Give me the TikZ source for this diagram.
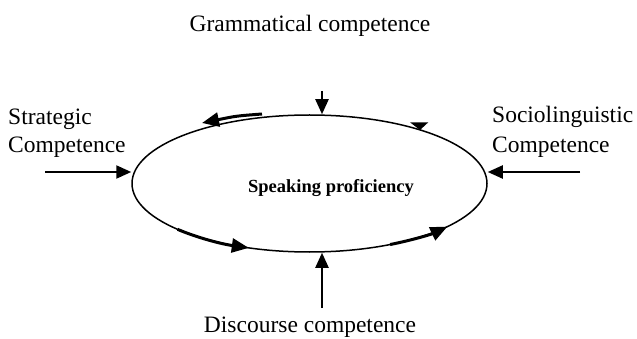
\documentclass[tikz,border=0pt]{standalone}
\usepackage{fontspec}
\setmainfont{Liberation Serif}
\usetikzlibrary{arrows.meta,shapes.geometric}
\begin{document}
\begin{tikzpicture}[x=1pt,y=1pt,
  lbl/.style={inner sep=0pt,font=\fontsize{23.5}{28}\selectfont},
  inarrow/.style={line width=2.2pt,-{Triangle[length=15pt,width=13pt]}},
  ringarrow/.style={line width=3pt,-{Triangle[length=17pt,width=14pt]}},
  ring/.style={draw,ellipse,line width=1.5pt,minimum width=355pt,minimum height=137pt,inner sep=0pt}
]
\useasboundingbox (0,0) rectangle (637,-339);
\node[ring] (sp) at (309.5,-183.5) {};
\node[inner sep=0pt,font=\fontsize{18.5}{22}\selectfont\bfseries] (splabel) at (331,-188) {Speaking proficiency};

\node[lbl,anchor=base] (gram) at (310,-32) {Grammatical competence};
\node[lbl,anchor=base] (disc) at (310,-332) {Discourse competence};
\node[lbl,anchor=base west] (strat1) at (8,-125) {Strategic};
\node[lbl,anchor=base west] (strat2) at (8,-153) {Competence};
\node[lbl,anchor=base west] (soc1) at (492,-123) {Sociolinguistic};
\node[lbl,anchor=base west] (soc2) at (492,-153) {Competence};

\coordinate (gtop) at (322,-91);
\coordinate (bbot) at (322,-308);
\coordinate (lst) at (45,-172);
\coordinate (rst) at (580,-172);

\draw[inarrow] (gtop) -- (gtop |- sp.north);
\draw[inarrow] (bbot) -- (bbot |- sp.south);
\draw[inarrow] (lst) -- (sp.west |- lst);
\draw[inarrow] (rst) -- (sp.east |- rst);

\coordinate (ulA) at (262,-114);
\coordinate (ulB) at (202,-123);
\draw[ringarrow] (ulA) .. controls (236,-116) .. (ulB);
\draw[ringarrow] (sp.center) ++(222:177.5pt and 68.5pt) arc[start angle=222,end angle=250,x radius=177.5pt,y radius=68.5pt];
\draw[ringarrow] (sp.center) ++(297:177.5pt and 68.5pt) arc[start angle=297,end angle=321,x radius=177.5pt,y radius=68.5pt];
\fill (410,-122.3) -- (428.3,-122.3) -- (420,-130) -- cycle;
\end{tikzpicture}
\end{document}
